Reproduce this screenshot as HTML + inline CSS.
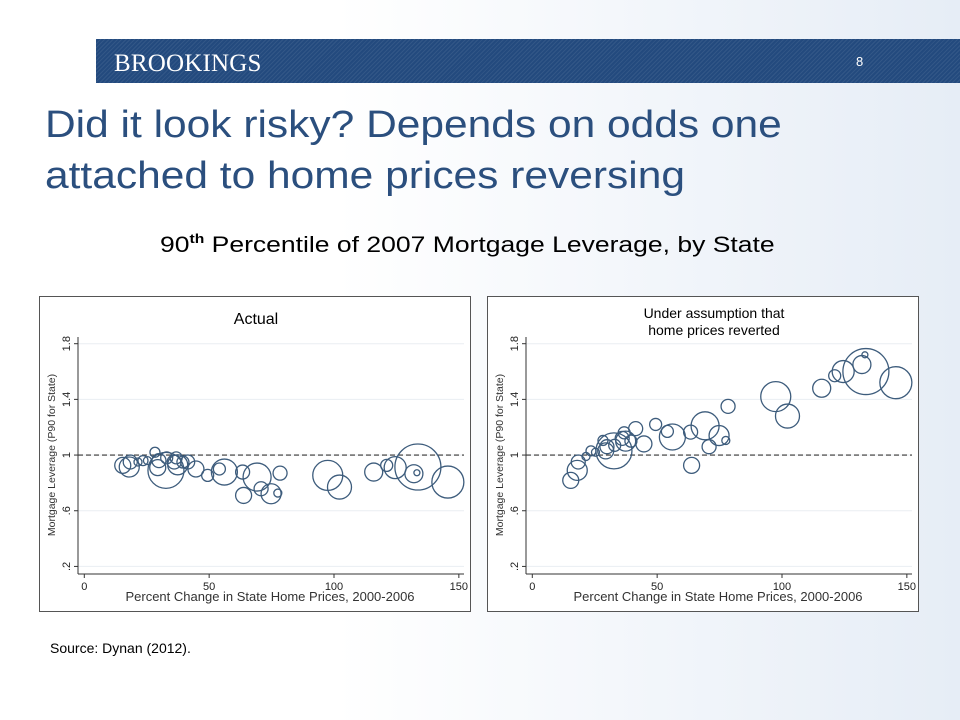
<!DOCTYPE html>
<html><head><meta charset="utf-8">
<style>
body{margin:0;width:960px;height:720px;overflow:hidden;font-family:"Liberation Sans",Arial,sans-serif;}
#slide{position:relative;width:960px;height:720px;background:linear-gradient(90deg,#ffffff 0%,#ffffff 35%,#e6edf6 100%);}
#hdr{position:absolute;left:96px;top:39px;width:864px;height:44px;background:#234a7e;background-image:repeating-linear-gradient(135deg,rgba(255,255,255,0.07) 0 1px,transparent 1px 3px);}
#brand{position:absolute;left:18px;top:11px;font-family:"Liberation Serif",serif;font-size:25px;color:#fff;letter-spacing:0.2px;}
#pg{position:absolute;left:760px;top:15px;font-size:13px;color:#fff;}
#title{position:absolute;left:45px;top:100px;font-size:38px;line-height:51px;color:#2b4f7e;transform:scaleX(1.118);transform-origin:0 0;white-space:nowrap;}
#sub{position:absolute;left:160px;top:231px;font-size:22px;color:#000;transform:scaleX(1.205);transform-origin:0 0;white-space:nowrap;}
#sub sup{font-size:13px;vertical-align:9px;font-weight:bold;}
.panel{position:absolute;top:296px;width:430px;height:314px;border:1px solid #555;background:#fff;}
#src{position:absolute;left:50px;top:640px;font-size:14px;color:#000;}
</style></head>
<body>
<div id="slide">
<div id="hdr"><div id="brand">BROOKINGS</div><div id="pg">8</div></div>
<div id="title">Did it look risky? Depends on odds one<br>attached to home prices reversing</div>
<div id="sub">90<sup>th</sup> Percentile of 2007 Mortgage Leverage, by State</div>
<div class="panel" style="left:39px"><svg id="c1" width="430" height="314"></svg></div>
<div class="panel" style="left:487px"><svg id="c2" width="430" height="314"></svg></div>
<div id="src">Source: Dynan (2012).</div>
</div>
<script>
const xVals=[15.4,18.0,18.4,21.5,23.5,25.3,28.3,29.4,32.7,33,29.9,36,36.8,37.4,39.5,41.4,44.7,49.4,54.1,56.1,63.4,63.8,69.2,70.8,74.8,77.5,78.4,97.5,102.2,115.9,121.1,124.5,133.6,132,133.2,145.6];
const yActual=[0.926,0.914,0.95,0.95,0.96,0.96,1.02,0.91,0.89,0.98,0.96,0.95,0.98,0.93,0.95,0.95,0.90,0.854,0.90,0.878,0.878,0.71,0.842,0.758,0.722,0.727,0.87,0.854,0.77,0.878,0.926,0.91,0.914,0.866,0.873,0.806];
const yReverted=[0.818,0.89,0.95,0.99,1.03,1.02,1.105,1.03,1.03,1.07,1.06,1.12,1.16,1.10,1.10,1.19,1.08,1.22,1.17,1.13,1.165,0.926,1.21,1.06,1.14,1.105,1.35,1.42,1.28,1.48,1.57,1.60,1.60,1.65,1.72,1.52];
const sizes=[8,10,7,4,5,4,5,8,18,6,7,7,6,10,6,7,8,6,6,13,7,8,14,7,10,4,7,15,12,9,6,11,23,9,3,16];
const xTicks=[0,50,100,150];
const yTicks=[0.2,0.6,1,1.4,1.8];
const yTickLabels=[".2",".6","1","1.4","1.8"];
const NS="http://www.w3.org/2000/svg";
function mk(svg,tag,attrs){const e=document.createElementNS(NS,tag);for(const k in attrs)e.setAttribute(k,attrs[k]);svg.appendChild(e);return e;}
function draw(id,ys,titleLines){
  const svg=document.getElementById(id);
  const sx=v=>44.3+v*2.497;
  const sy=v=>46.7+(1.8-v)*139.2;
  titleLines.forEach((t,i)=>{const e=mk(svg,'text',{x:titleLines.length>1?226:216,y:titleLines.length>1?21+i*17:27,'text-anchor':'middle','font-size':titleLines.length>1?14:16,fill:'#000','font-family':'Liberation Sans, sans-serif'});e.textContent=t;
    
    });
  yTicks.forEach((t,i)=>{
    const g=mk(svg,'line',{x1:38,x2:424,y1:sy(t),y2:sy(t),stroke:'#eaeef2','stroke-width':1});
    
    
    mk(svg,'line',{x1:34,x2:38,y1:sy(t),y2:sy(t),stroke:'#333'});
    const l=mk(svg,'text',{x:0,y:0,transform:`translate(30,${sy(t)}) rotate(-90)`,'text-anchor':'middle','font-size':11,fill:'#222'});l.textContent=yTickLabels[i];
    
    
  });
  mk(svg,'line',{x1:38,x2:38,y1:40,y2:277,stroke:'#333','stroke-width':1});
  mk(svg,'line',{x1:38,x2:424,y1:277,y2:277,stroke:'#333','stroke-width':1});
  xTicks.forEach(t=>{
    mk(svg,'line',{x1:sx(t),x2:sx(t),y1:277,y2:281,stroke:'#333'});
    const l=mk(svg,'text',{x:sx(t),y:293,'text-anchor':'middle','font-size':11,fill:'#222'});l.textContent=t;
    
    
  });
  const xt=mk(svg,'text',{x:230,y:304,'text-anchor':'middle','font-size':13,fill:'#333'});xt.textContent='Percent Change in State Home Prices, 2000-2006';
  
  
  const yt=mk(svg,'text',{x:0,y:0,transform:'translate(15,158) rotate(-90)','text-anchor':'middle','font-size':10.5,fill:'#333'});yt.textContent='Mortgage Leverage (P90 for State)';
  
  
  const ref=mk(svg,'line',{x1:38,x2:424,y1:sy(1),y2:sy(1),stroke:'#333','stroke-width':1.2,'stroke-dasharray':'5,3'});
  
  
  xVals.forEach((x,i)=>{
    const c=mk(svg,'circle',{cx:sx(x),cy:sy(ys[i]),r:sizes[i],fill:'none',stroke:'#3d5c7c','stroke-width':1.3});
    
    
  });
}
draw('c1',yActual,['Actual']);
draw('c2',yReverted,['Under assumption that','home prices reverted']);
</script>
</body></html>
